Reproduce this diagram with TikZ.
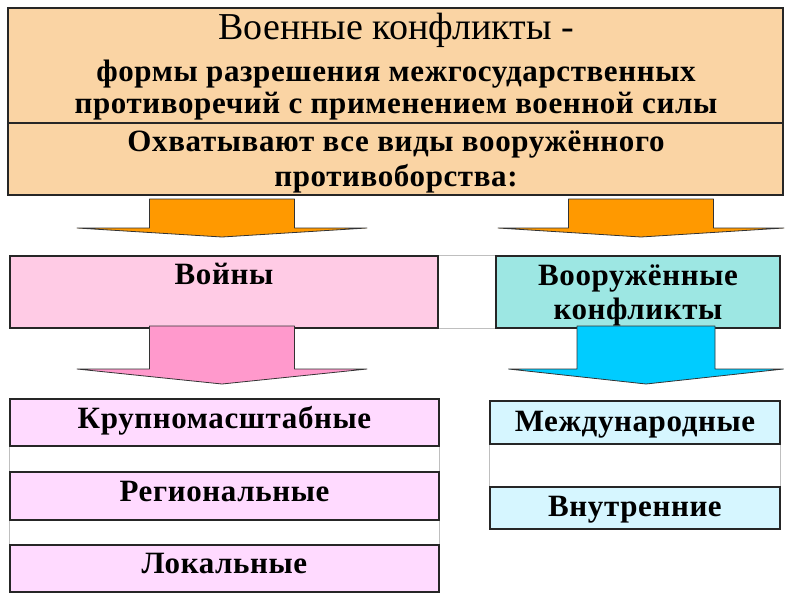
\documentclass[tikz,border=0pt]{standalone}
\usepackage{fontspec}
\setmainfont{Liberation Serif}
\usetikzlibrary{positioning}

\definecolor{peach}{HTML}{FAD4A4}
\definecolor{orangearr}{HTML}{FF9900}
\definecolor{warpink}{HTML}{FFCBE5}
\definecolor{armedcyan}{HTML}{9DE7E3}
\definecolor{pinkarr}{HTML}{FF99CC}
\definecolor{bluearr}{HTML}{00CCFF}
\definecolor{lilac}{HTML}{FFDAFF}
\definecolor{icecyan}{HTML}{D6F6FF}

\tikzset{
  box/.style={draw=black!85, line width=1.4pt, inner sep=0pt},
  gridline/.style={draw=black!25, line width=1pt},
  txt/.style={font=\bfseries\fontsize{31}{35}\selectfont\addfontfeature{LetterSpace=2}, anchor=base, inner sep=0pt},
}

% block arrow: colour, centre x, shaft half, wing half, top, wing y, tip y
\newcommand{\blockarrow}[7]{%
  \filldraw[fill=#1, draw=black!80, line width=0.8pt, line join=round]
    (#2-#3,#5) -- (#2+#3,#5) -- (#2+#3,#6) -- (#2+#4,#6)
    -- (#2,#7) -- (#2-#4,#6) -- (#2-#3,#6) -- cycle;}

\begin{document}
\begin{tikzpicture}[x=1pt,y=-1pt]
  \useasboundingbox (0,0) rectangle (800,600);

  %header
  \node[box, fill=peach, minimum width=775pt, minimum height=187pt] (head) at (395.5,101.5) {};
  \draw[black!85, line width=1.4pt] (head.west |- 0,123) -- (head.east |- 0,123);
  \node[txt, font=\fontsize{38}{42}\selectfont] (title) at (396,39) {Военные конфликты -};
  \node[txt] (def1) at (396,81) {формы разрешения межгосударственных};
  \node[txt] (def2) at (396,113) {противоречий с применением военной силы};
  \node[txt] (cov1) at (396,151) {Охватывают все виды вооружённого};
  \node[txt] (cov2) at (396,186) {противоборства:};

  %second row
  \node[box, fill=warpink, minimum width=428pt, minimum height=72pt] (wars) at (224,292) {};
  \node[box, fill=armedcyan, minimum width=284pt, minimum height=72pt] (armed) at (638,292) {};
  \draw[gridline] (wars.north east) -- (armed.north west);
  \draw[gridline] (wars.south east) -- (armed.south west);
  \node[txt] (warsT) at (224,284) {Войны};
  \node[txt] (armedT1) at (638,285) {Вооружённые};
  \node[txt] (armedT2) at (638,319) {конфликты};

  %kinds of wars
  \node[box, fill=lilac, minimum width=429pt, minimum height=47pt] (large) at (224.5,422.5) {};
  \node[box, fill=lilac, minimum width=429pt, minimum height=48pt] (regional) at (224.5,496) {};
  \node[box, fill=lilac, minimum width=429pt, minimum height=47pt] (local) at (224.5,568.5) {};
  \node[txt] (largeT) at (224.5,428) {Крупномасштабные};
  \node[txt] (regionalT) at (224.5,501) {Региональные};
  \node[txt] (localT) at (224.5,573) {Локальные};

  %kinds of armed conflicts
  \node[box, fill=icecyan, minimum width=290pt, minimum height=43pt] (intl) at (635,422.5) {};
  \node[box, fill=icecyan, minimum width=290pt, minimum height=42pt] (internal) at (635,508) {};
  \node[txt] (intlT) at (635,431) {Международные};
  \node[txt] (internalT) at (635,516) {Внутренние};

  \draw[gridline] (large.south west) -- (regional.north west);
  \draw[gridline] (large.south east) -- (regional.north east);
  \draw[gridline] (regional.south west) -- (local.north west);
  \draw[gridline] (regional.south east) -- (local.north east);
  \draw[gridline] (intl.south west) -- (internal.north west);
  \draw[gridline] (intl.south east) -- (internal.north east);

  %arrows
  \blockarrow{orangearr}{222}{72.5}{145}{199}{228}{237}
  \blockarrow{orangearr}{641}{72.5}{143}{199}{228}{237}
  \blockarrow{pinkarr}{222}{72.5}{145}{326}{369}{384}
  \blockarrow{bluearr}{646}{69}{137.5}{326}{369}{384}
\end{tikzpicture}
\end{document}
